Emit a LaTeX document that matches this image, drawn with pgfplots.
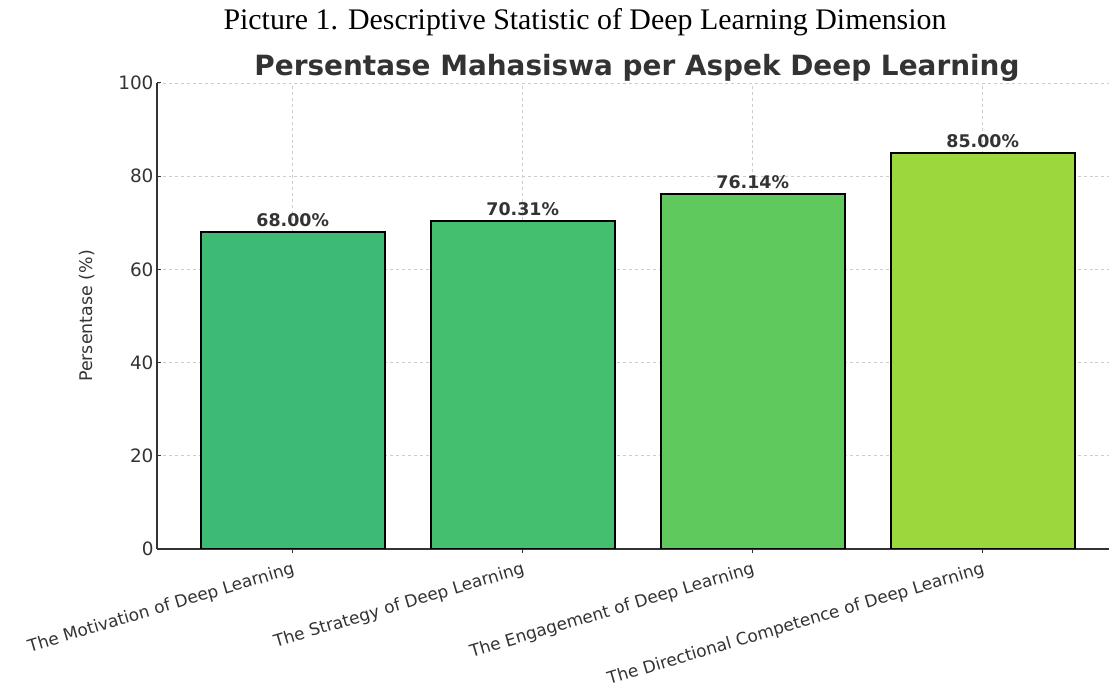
\documentclass[border=0pt]{standalone}
\usepackage{pgfplots}
\pgfplotsset{compat=1.18}
\usepackage{fontspec}
\setmainfont{DejaVu Sans}
\newfontfamily\capfont{Liberation Serif}
\definecolor{c1}{HTML}{3DBA74}
\definecolor{c2}{HTML}{44BF70}
\definecolor{c3}{HTML}{60C95E}
\definecolor{c4}{HTML}{9CD73C}
\definecolor{txt}{HTML}{333333}
\definecolor{gridc}{HTML}{CCCCCC}
\begin{document}
\begin{tikzpicture}[x=1bp,y=1bp]
\useasboundingbox (0,0) rectangle (1109,686);
\node[font=\capfont\fontsize{30}{34}\selectfont, anchor=center] at (585,664) {Picture 1. Descriptive Statistic of Deep Learning Dimension};
\node[font=\bfseries\fontsize{28}{32}\selectfont, text=txt, anchor=center] at (637,618) {Persentase Mahasiswa per Aspek Deep Learning};
\begin{axis}[
  at={(292.7bp,137bp)}, anchor=origin,
  width=952bp, height=466bp, scale only axis,
  xmin=-0.59, xmax=3.549, ymin=0, ymax=100,
  axis x line*=bottom, axis y line*=left,
  axis line style={draw=txt, line width=1.3bp},
  ytick={0,20,...,100},
  xtick={0,1,2,3},
  xticklabels={The Motivation of Deep Learning, The Strategy of Deep Learning, The Engagement of Deep Learning, The Directional Competence of Deep Learning},
  x tick label style={rotate=16.5, anchor=north east, font=\fontsize{17}{20}\selectfont, text=txt, yshift=-4bp},
  y tick label style={font=\fontsize{18.5}{22}\selectfont, text=txt},
  /pgf/number format/assume math mode=true,
  tick align=inside, major tick length=4bp,
  tick style={draw=txt, line width=1bp},
  grid=major,
  major grid style={draw=gridc, dashed, line width=0.8bp},
  ylabel={Persentase (\%)},
  ylabel style={font=\fontsize{17.5}{20}\selectfont, text=txt, at={(axis description cs:-0.062,0.5)}, anchor=south},
  ybar, bar width=184bp, bar shift=0pt,
  nodes near coords={\pgfmathprintnumber[fixed, fixed zerofill, precision=2]{\pgfplotspointmeta}\%},
  nodes near coords style={font=\bfseries\fontsize{17.5}{20}\selectfont, text=txt, anchor=south, yshift=1bp},
]
\addplot[fill=c1, draw=black, line width=1.8bp] coordinates {(0,68.00)};
\addplot[fill=c2, draw=black, line width=1.8bp] coordinates {(1,70.31)};
\addplot[fill=c3, draw=black, line width=1.8bp] coordinates {(2,76.14)};
\addplot[fill=c4, draw=black, line width=1.8bp] coordinates {(3,85.00)};
\end{axis}
\end{tikzpicture}
\end{document}
